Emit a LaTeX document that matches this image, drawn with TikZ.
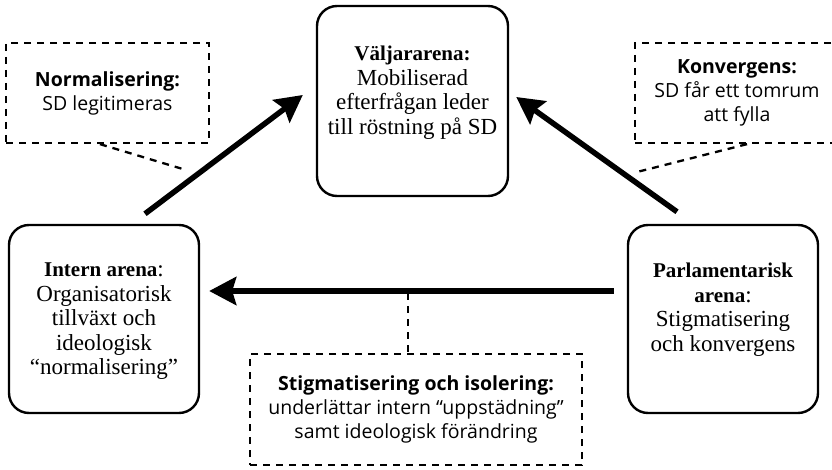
\documentclass[tikz,border=0pt]{standalone}
\usepackage{fontspec}
\setmainfont{Liberation Serif}
\newfontfamily\labelsans{Open Sans}
\usetikzlibrary{arrows.meta}
\newcommand{\hd}[1]{{\fontsize{21}{24.5}\selectfont\bfseries #1}}
\tikzset{
  arena/.style={draw, line width=2.4pt, rounded corners=20pt, inner sep=0pt},
  arenatext/.style={anchor=north, align=center, inner sep=0pt, font=\fontsize{23}{24.5}\selectfont},
  notebox/.style={draw, line width=2.3pt, dash pattern=on 7pt off 6pt, inner sep=0pt, align=center, font=\labelsans\fontsize{19.5}{24}\selectfont},
  notelink/.style={line width=2.3pt, dash pattern=on 7pt off 6pt},
  bigarrow/.style={line width=5.5pt, -{Stealth[length=27pt,width=28pt,inset=4pt]}}
}
\begin{document}
\begin{tikzpicture}[x=1pt,y=-1pt]
\useasboundingbox (0,0) rectangle (832,470);
% arena boxes
\node[arena, minimum width=191pt, minimum height=190pt] (valj) at (412.5,101) {};
\node[arena, minimum width=190pt, minimum height=188pt] (intern) at (104,319) {};
\node[arena, minimum width=190pt, minimum height=188pt] (parl) at (723,319) {};
\node[arenatext] (valjt) at ([yshift=-41pt]valj.north) {\hd{Väljararena:}\\Mobiliserad\\efterfrågan leder\\till röstning på SD};
\node[arenatext] (internt) at ([yshift=-39pt]intern.north) {\hd{Intern arena}:\\Organisatorisk\\tillväxt och\\ideologisk\\“normalisering”};
\node[arenatext] (parlt) at ([yshift=-39pt]parl.north) {\hd{Parlamentarisk}\\\hd{arena}:\\Stigmatisering\\och konvergens};
% note boxes
\node[notebox, minimum width=203pt, minimum height=100pt] (norm) at (107.5,93) {\textbf{Normalisering:}\\SD legitimeras};
\node[notebox, minimum width=204pt, minimum height=100pt] (konv) at (737,93) {\textbf{Konvergens:}\\SD får ett tomrum\\att fylla};
\node[notebox, minimum width=332pt, minimum height=111pt] (stig) at (416,409.5) {\textbf{Stigmatisering och isolering:}\\underlättar intern “uppstädning”\\samt ideologisk förändring};
% arrow end points
\coordinate (a1s) at ([shift={(41,-10)}]intern.north);
\coordinate (a1e) at ([shift={(-13,-6)}]valj.west);
\coordinate (a2s) at ([shift={(-46,-12)}]parl.north);
\coordinate (a2e) at ([shift={(7,-4)}]valj.east);
\coordinate (a3s) at ([shift={(-13,-28)}]parl.west);
\coordinate (a3e) at ([shift={(9,-28)}]intern.east);
\coordinate (a3m) at (408,293);
% arrows
\draw[bigarrow] (a1s) -- (a1e);
\draw[bigarrow] (a2s) -- (a2e);
\draw[bigarrow] (a3s) -- (a3e);
% dashed links
\coordinate (n1) at ([xshift=-7.5pt]norm.south);
\coordinate (n2) at (186,170);
\draw[notelink] (n1) -- (n2);
\coordinate (k1) at ([xshift=10pt]konv.south);
\coordinate (k2) at (637,172);
\draw[notelink] (k1) -- (k2);
\draw[notelink] (a3m) -- (a3m |- stig.north);
\end{tikzpicture}
\end{document}
